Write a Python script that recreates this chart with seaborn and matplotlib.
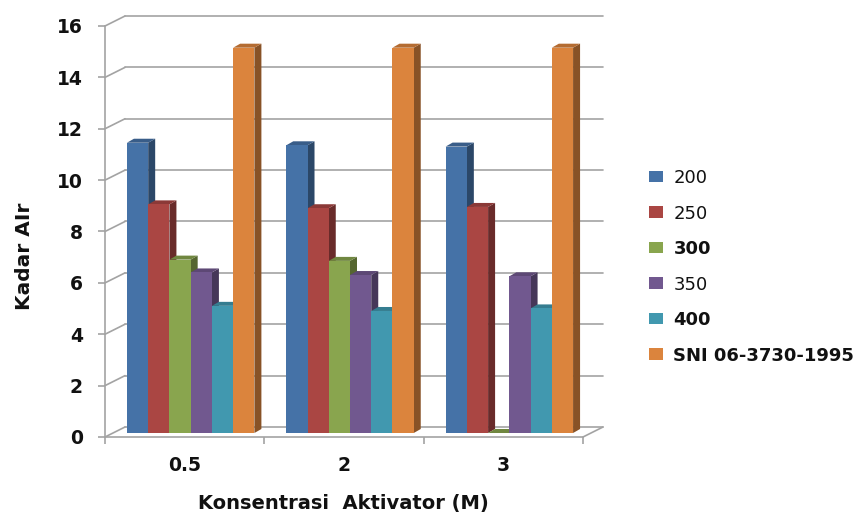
import matplotlib
matplotlib.use("Agg")
import numpy as np
import pandas as pd
import matplotlib.pyplot as plt
import matplotlib.transforms as mtransforms
from matplotlib.patches import Polygon, Patch
import seaborn as sns

# Activator concentration groups (M) and carbonisation temperature series
konsentrasi = ["0.5", "2", "3"]
series = ["200", "250", "300", "350", "400", "SNI 06-3730-1995"]

kadar_200 = [11.3, 11.2, 11.15]
kadar_250 = [8.9, 8.75, 8.8]
kadar_300 = [6.75, 6.7, 0.0]
kadar_350 = [6.25, 6.15, 6.1]
kadar_400 = [4.95, 4.75, 4.85]
kadar_sni = [15.0, 15.0, 15.0]

y_ticks = [0, 2, 4, 6, 8, 10, 12, 14, 16]

colors = ["#4572A7", "#AA4643", "#89A54E", "#71588F", "#4198AF", "#DB843D"]
bold_labels = {"300", "400", "SNI 06-3730-1995"}

values = [kadar_200, kadar_250, kadar_300, kadar_350, kadar_400, kadar_sni]
df = pd.DataFrame(
    [(k, s, v[i]) for s, v in zip(series, values) for i, k in enumerate(konsentrasi)],
    columns=["Konsentrasi", "Suhu", "Kadar"],
)

sns.set_style("white")
plt.rcParams["font.family"] = ["DejaVu Sans"]
plt.rcParams["text.color"] = "#111111"
plt.rcParams["axes.labelcolor"] = "#111111"
plt.rcParams["xtick.labelcolor"] = "#111111"
plt.rcParams["ytick.labelcolor"] = "#111111"

W, H = 860, 514
DPI = 100
fig = plt.figure(figsize=(W / DPI, H / DPI), dpi=DPI)

# front frame of the 3-D box, in pixels
fx0, fx1, fy0, fy1 = 105, 583, 437, 26
ax = fig.add_axes([fx0 / W, 1 - fy0 / H, (fx1 - fx0) / W, (fy0 - fy1) / H])

sns.barplot(
    data=df, x="Konsentrasi", y="Kadar", hue="Suhu",
    order=konsentrasi, hue_order=series, palette=colors,
    saturation=1, width=0.8, errorbar=None, legend=False,
    linewidth=0, edgecolor="none", ax=ax,
)
ax.set_xlim(-0.5, len(konsentrasi) - 0.5)
ax.set_ylim(0, 16)

px_x = (fx1 - fx0) / len(konsentrasi)   # pixels per category unit
px_y = (fy0 - fy1) / 16.0               # pixels per value unit


def shift(dx, dy):
    return mtransforms.ScaledTranslation(dx / DPI, dy / DPI, fig.dpi_scale_trans)


grid_col = "#a3a3a3"
grid_lw = 1.2

# back wall: gridlines pushed back in depth, joined to the front axis
wall_dx, wall_dy = 20, 10
for yv in y_ticks:
    ax.plot([-0.5, len(konsentrasi) - 0.5], [yv, yv], color=grid_col, lw=grid_lw,
            transform=ax.transData + shift(wall_dx, wall_dy), zorder=0, clip_on=False)
    ax.plot([-0.5, -0.5 + wall_dx / px_x], [yv, yv + wall_dy / px_y], color=grid_col,
            lw=grid_lw, zorder=0, clip_on=False)
ax.plot([len(konsentrasi) - 0.5, len(konsentrasi) - 0.5 + wall_dx / px_x],
        [0, wall_dy / px_y], color=grid_col, lw=grid_lw, zorder=0, clip_on=False)

# bars sit a little behind the front frame; give each one a side and a top face
bar_t = ax.transData + shift(6, 4)
ddx, ddy = 7 / px_x, 4 / px_y
bars = list(ax.patches)
for p in bars:
    p.set_transform(bar_t)
    p.set_zorder(3)
    p.set_clip_on(False)
    fc = np.array(p.get_facecolor()[:3])
    xl, w, h = p.get_x(), p.get_width(), p.get_height()
    xr = xl + w
    side = Polygon([(xr, 0), (xr + ddx, ddy), (xr + ddx, h + ddy), (xr, h)],
                   closed=True, facecolor=fc * 0.62, edgecolor="none",
                   transform=bar_t, zorder=2, clip_on=False)
    top = Polygon([(xl, h), (xl + ddx, h + ddy), (xr + ddx, h + ddy), (xr, h)],
                  closed=True, facecolor=fc * 0.82, edgecolor="none",
                  transform=bar_t, zorder=2.5, clip_on=False)
    ax.add_patch(side)
    ax.add_patch(top)

# front frame axes
for s in ["top", "right"]:
    ax.spines[s].set_visible(False)
for s in ["left", "bottom"]:
    ax.spines[s].set_color(grid_col)
    ax.spines[s].set_linewidth(grid_lw)

ax.set_yticks(y_ticks)
ax.set_yticklabels([str(t) for t in y_ticks], fontsize=13.5, fontweight="bold")
ax.tick_params(axis="y", direction="out", length=5, width=grid_lw, color=grid_col,
               pad=11, left=True)

ax.set_xticks(range(len(konsentrasi)))
ax.set_xticklabels(konsentrasi, fontsize=13.5, fontweight="bold")
ax.set_xticks([i - 0.5 for i in range(len(konsentrasi) + 1)], minor=True)
ax.tick_params(axis="x", which="major", length=0, pad=14)
ax.tick_params(axis="x", which="minor", direction="out", length=5, width=grid_lw,
               color=grid_col, bottom=True)

ax.set_xlabel("Konsentrasi  Aktivator (M)", fontsize=14, fontweight="bold")
ax.xaxis.set_label_coords(343 / W, 1 - 494 / H, transform=fig.transFigure)
ax.set_ylabel("Kadar AIr", fontsize=14.5, fontweight="bold")
ax.yaxis.set_label_coords(34 / W, 1 - 256 / H, transform=fig.transFigure)
ax.grid(False)

handles = [Patch(facecolor=c, edgecolor="none") for c in colors]
leg = ax.legend(
    handles, series, loc="upper left",
    bbox_to_anchor=(649 / W, 1 - 169 / H), bbox_transform=fig.transFigure,
    frameon=False, fontsize=13, handlelength=0.8, handleheight=0.6,
    handletextpad=0.55, labelspacing=0.97, borderpad=0, borderaxespad=0,
)
for t in leg.get_texts():
    if t.get_text() in bold_labels:
        t.set_fontweight("bold")

fig.savefig("out.png", dpi=DPI, facecolor="white")
